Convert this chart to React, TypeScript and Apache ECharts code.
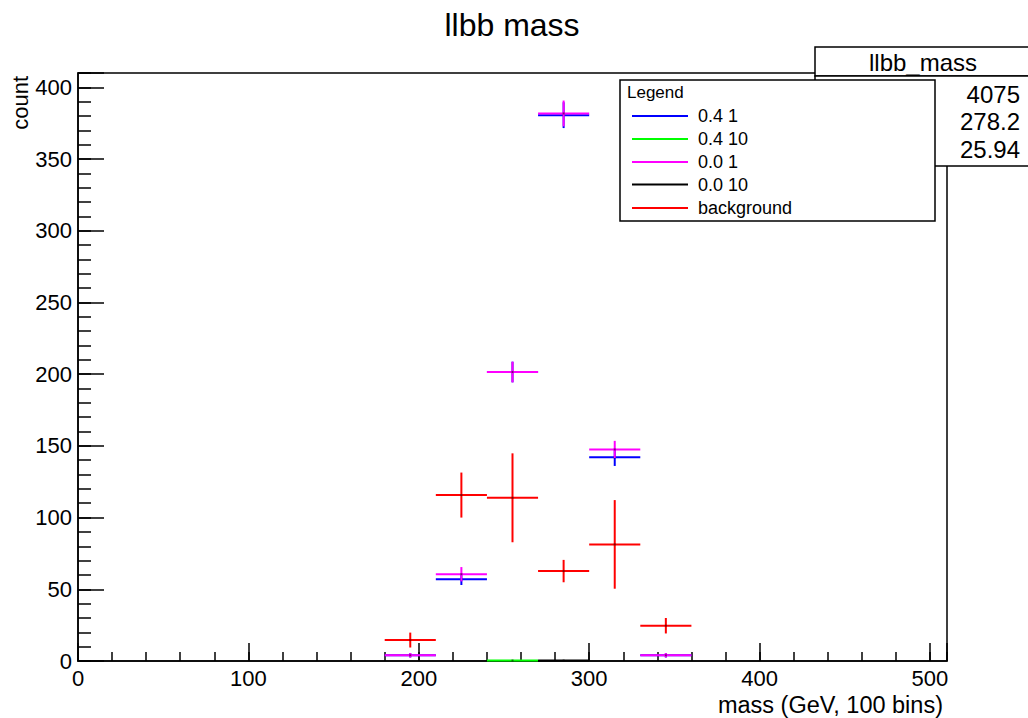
import React, { useEffect, useRef } from "react";
import * as echarts from "echarts";

// ---- data ----
const binCenters = [195, 225, 255, 285, 315, 345];
const binWidth = 30;

const blueVals = [4, 57, 201.5, 380.6, 142, 4];
const blueErrs = [1.5, 4, 7.2, 9, 6, 1.5];
const greenCenters = [255];
const greenVals = [0.4];
const greenErrs = [0.2];
const magentaVals = [4, 60.5, 201.5, 381.8, 147.5, 4];
const magentaErrs = [1.6, 5, 7.2, 9, 6, 1.6];
const blackCenters = [285];
const blackVals = [0.4];
const blackErrs = [0.2];
const redVals = [14.6, 115.7, 113.8, 62.7, 81.3, 24.6];
const redErrs = [5.2, 15.7, 31, 7.8, 30.9, 5.4];

const seriesNames = ["0.4 1", "0.4 10", "0.0 1", "0.0 10", "background"];
const seriesColors = ["#0000ff", "#00ff00", "#ff00ff", "#000000", "#ff0000"];

const xTicks = [0, 100, 200, 300, 400, 500];
const yTicks = [0, 50, 100, 150, 200, 250, 300, 350, 400];

const titleText = "llbb mass";
const xTitle = "mass (GeV, 100 bins)";
const yTitle = "count";
const legendTitle = "Legend";
const statsTitle = "llbb_mass";
const statsValues = ["4075", "278.2", "25.94"];

const FONT = "'Liberation Sans', Arial, Helvetica, sans-serif";

function toData(centers: number[], vals: number[], errs: number[]) {
  return centers.map((c, i) => [c - binWidth / 2, c + binWidth / 2, vals[i], errs[i]]);
}

function makeRender(color: string) {
  return (params: any, api: any) => {
    const lo = api.value(0);
    const hi = api.value(1);
    const v = api.value(2);
    const e = api.value(3);
    const c = (lo + hi) / 2;
    const pL = api.coord([lo, v]);
    const pR = api.coord([hi, v]);
    const pT = api.coord([c, v + e]);
    const pB = api.coord([c, Math.max(v - e, 0)]);
    return {
      type: "group",
      children: [
        {
          type: "line",
          shape: { x1: pL[0], y1: pL[1], x2: pR[0], y2: pR[1] },
          style: { stroke: color, lineWidth: 2 },
        },
        {
          type: "line",
          shape: { x1: pT[0], y1: pT[1], x2: pB[0], y2: pB[1] },
          style: { stroke: color, lineWidth: 2 },
        },
        {
          type: "rect",
          shape: { x: pL[0] + (pR[0] - pL[0]) / 2 - 1, y: pL[1] - 1, width: 2, height: 2 },
          style: { fill: "#000", opacity: 0.5 },
        },
      ],
    };
  };
}

export default function App() {
  const ref = useRef<HTMLDivElement>(null);

  useEffect(() => {
    document.body.style.margin = "0";
    if (!ref.current) return;
    const chart = echarts.init(ref.current, undefined, { renderer: "svg" });

    const allData = [
      toData(binCenters, blueVals, blueErrs),
      toData(greenCenters, greenVals, greenErrs),
      toData(binCenters, magentaVals, magentaErrs),
      toData(blackCenters, blackVals, blackErrs),
      toData(binCenters, redVals, redErrs),
    ];

    const series = allData.map((d, i) => ({
      type: "custom",
      name: seriesNames[i],
      xAxisIndex: 0,
      yAxisIndex: 0,
      renderItem: makeRender(seriesColors[i]),
      data: d,
      encode: { x: [0, 1], y: [2] },
      z: 10 + i,
    }));

    const legendX = 620;
    const legendY = 80;
    const rowY = [116, 139, 162, 184.5, 208];

    const graphics: any[] = [
      {
        type: "text",
        x: 512,
        y: 25,
        style: { text: titleText, font: `32px ${FONT}`, fill: "#000", textAlign: "center", textVerticalAlign: "middle" },
      },
      {
        type: "text",
        x: 943,
        y: 705,
        style: { text: xTitle, font: `23.5px ${FONT}`, fill: "#000", textAlign: "right", textVerticalAlign: "middle" },
      },
      {
        type: "text",
        x: 20,
        y: 76,
        rotation: Math.PI / 2,
        style: { text: yTitle, font: `22px ${FONT}`, fill: "#000", textAlign: "right", textVerticalAlign: "middle" },
      },
      // stats box
      {
        type: "rect",
        z: 100,
        shape: { x: 815, y: 47, width: 240, height: 29 },
        style: { fill: "#fff", stroke: "#000", lineWidth: 1.5 },
      },
      {
        type: "rect",
        z: 100,
        shape: { x: 815, y: 76, width: 240, height: 90 },
        style: { fill: "#fff", stroke: "#000", lineWidth: 1.5 },
      },
      {
        type: "text",
        z: 101,
        x: 923,
        y: 62,
        style: { text: statsTitle, font: `24px ${FONT}`, fill: "#000", textAlign: "center", textVerticalAlign: "middle" },
      },
      ...statsValues.map((s, i) => ({
        type: "text",
        z: 101,
        x: 1020,
        y: [94, 121.5, 149][i],
        style: { text: s, font: `24px ${FONT}`, fill: "#000", textAlign: "right", textVerticalAlign: "middle" },
      })),
      // legend
      {
        type: "rect",
        z: 110,
        shape: { x: legendX, y: legendY, width: 315, height: 141 },
        style: { fill: "#fff", stroke: "#000", lineWidth: 1.5 },
      },
      {
        type: "text",
        z: 111,
        x: 627,
        y: 92,
        style: { text: legendTitle, font: `17px ${FONT}`, fill: "#000", textAlign: "left", textVerticalAlign: "middle" },
      },
      ...seriesNames.flatMap((n, i) => [
        {
          type: "line",
          z: 111,
          shape: { x1: 632, y1: rowY[i], x2: 688, y2: rowY[i] },
          style: { stroke: seriesColors[i], lineWidth: 2 },
        },
        {
          type: "text",
          z: 111,
          x: 698,
          y: rowY[i],
          style: { text: n, font: `18px ${FONT}`, fill: "#000", textAlign: "left", textVerticalAlign: "middle" },
        },
      ]),
    ];

    const axisLabelStyle = { color: "#000", fontSize: 22, fontFamily: FONT };

    chart.setOption({
      animation: false,
      backgroundColor: "#fff",
      grid: {
        left: 78,
        right: 81,
        top: 73,
        bottom: 57,
        show: true,
        borderColor: "#000",
        borderWidth: 1.5,
        backgroundColor: "transparent",
      },
      xAxis: [
        {
          type: "value",
          min: 0,
          max: 510,
          interval: 100,
          position: "bottom",
          z: 0,
          axisLine: { show: true, onZero: false, lineStyle: { color: "#000", width: 1.5 } },
          axisTick: { show: true, inside: true, length: 18, lineStyle: { color: "#000", width: 1.5 } },
          axisLabel: {
            ...axisLabelStyle,
            margin: 6,
            customValues: xTicks,
          },
          splitLine: { show: false },
        },
        {
          type: "value",
          min: 0,
          max: 510,
          interval: 20,
          position: "bottom",
          z: 0,
          axisLine: { show: false },
          axisTick: { show: true, inside: true, length: 9, lineStyle: { color: "#000", width: 1.5 } },
          axisLabel: { show: false },
          splitLine: { show: false },
        },
      ],
      yAxis: [
        {
          type: "value",
          min: 0,
          max: 410,
          interval: 50,
          position: "left",
          z: 0,
          axisLine: { show: true, onZero: false, lineStyle: { color: "#000", width: 1.5 } },
          axisTick: { show: true, inside: true, length: 26, lineStyle: { color: "#000", width: 1.5 } },
          axisLabel: {
            ...axisLabelStyle,
            margin: 6,
            customValues: yTicks,
          },
          splitLine: { show: false },
        },
        {
          type: "value",
          min: 0,
          max: 410,
          interval: 10,
          position: "left",
          z: 0,
          axisLine: { show: false },
          axisTick: { show: true, inside: true, length: 13, lineStyle: { color: "#000", width: 1.5 } },
          axisLabel: { show: false },
          splitLine: { show: false },
        },
      ],
      series,
      graphic: graphics,
    });

    return () => chart.dispose();
  }, []);

  return <div ref={ref} style={{ width: 1028, height: 718 }} />;
}
